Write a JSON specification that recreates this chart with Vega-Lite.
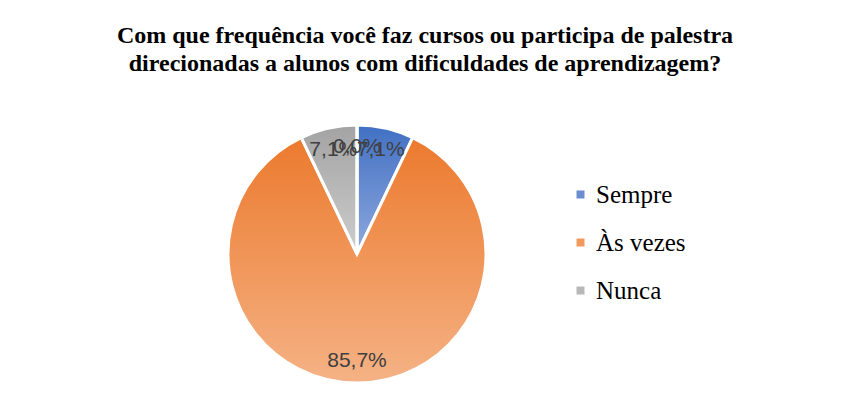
{
  "$schema": "https://vega.github.io/schema/vega-lite/v6.json",
  "width": 694,
  "height": 258,
  "autosize": {"type": "none"},
  "padding": {"left": 10, "top": 125, "right": 139, "bottom": 22},
  "background": "white",
  "title": {
    "text": ["Com que frequência você faz cursos ou participa de palestra", "direcionadas a alunos com dificuldades de aprendizagem?"],
    "font": "Liberation Serif",
    "fontSize": 24,
    "fontWeight": "bold",
    "color": "#000000",
    "lineHeight": 28,
    "anchor": "middle",
    "dx": 68,
    "offset": 43
  },
  "data": {
    "values": [
      {"resposta": "Sempre", "pct": 7.1, "ordem": 1, "rotulo": "7,1%"},
      {"resposta": "Às vezes", "pct": 85.7, "ordem": 2, "rotulo": "85,7%"},
      {"resposta": "Nunca", "pct": 7.1, "ordem": 3, "rotulo": "7,1%"},
      {"resposta": "Raramente", "pct": 0, "ordem": 4, "rotulo": "0,0%"}
    ]
  },
  "layer": [
    {
      "mark": {"type": "arc", "outerRadius": 129, "stroke": "white", "strokeWidth": 3},
      "encoding": {
        "theta": {"field": "pct", "type": "quantitative", "stack": true},
        "order": {"field": "ordem", "type": "quantitative"},
        "fill": {
          "condition": [
            {"test": "datum.resposta === 'Sempre'", "value": {"gradient": "linear", "x1": 0, "y1": 0, "x2": 0, "y2": 1, "stops": [{"offset": 0, "color": "#4170C3"}, {"offset": 1, "color": "#8FA9DE"}]}},
            {"test": "datum.resposta === 'Às vezes'", "value": {"gradient": "linear", "x1": 0, "y1": 0, "x2": 0, "y2": 1, "stops": [{"offset": 0, "color": "#EC7A2E"}, {"offset": 1, "color": "#F5B285"}]}}
          ],
          "value": {"gradient": "linear", "x1": 0, "y1": 0, "x2": 0, "y2": 1, "stops": [{"offset": 0, "color": "#A3A3A3"}, {"offset": 1, "color": "#CDCDCD"}]}
        }
      }
    },
    {
      "mark": {"type": "square", "opacity": 0},
      "encoding": {
        "color": {
          "field": "resposta",
          "type": "nominal",
          "scale": {"domain": ["Sempre", "Às vezes", "Nunca"], "range": ["#6A8DD0", "#F09A60", "#B8B8B8"]},
          "legend": {
            "title": null,
            "orient": "none",
            "legendX": 558,
            "legendY": 57,
            "symbolType": "square",
            "symbolSize": 64,
            "symbolOpacity": 1,
            "symbolStrokeWidth": 0,
            "labelFont": "Liberation Serif",
            "labelFontSize": 25,
            "labelColor": "#000000",
            "labelOffset": 3,
            "rowPadding": 22,
            "padding": 0
          }
        }
      }
    },
    {
      "mark": {"type": "text", "radius": 107, "font": "Liberation Sans", "fontSize": 21, "color": "#404040"},
      "encoding": {
        "theta": {"field": "pct", "type": "quantitative", "stack": true},
        "order": {"field": "ordem", "type": "quantitative"},
        "text": {"field": "rotulo", "type": "nominal"}
      }
    }
  ]
}
